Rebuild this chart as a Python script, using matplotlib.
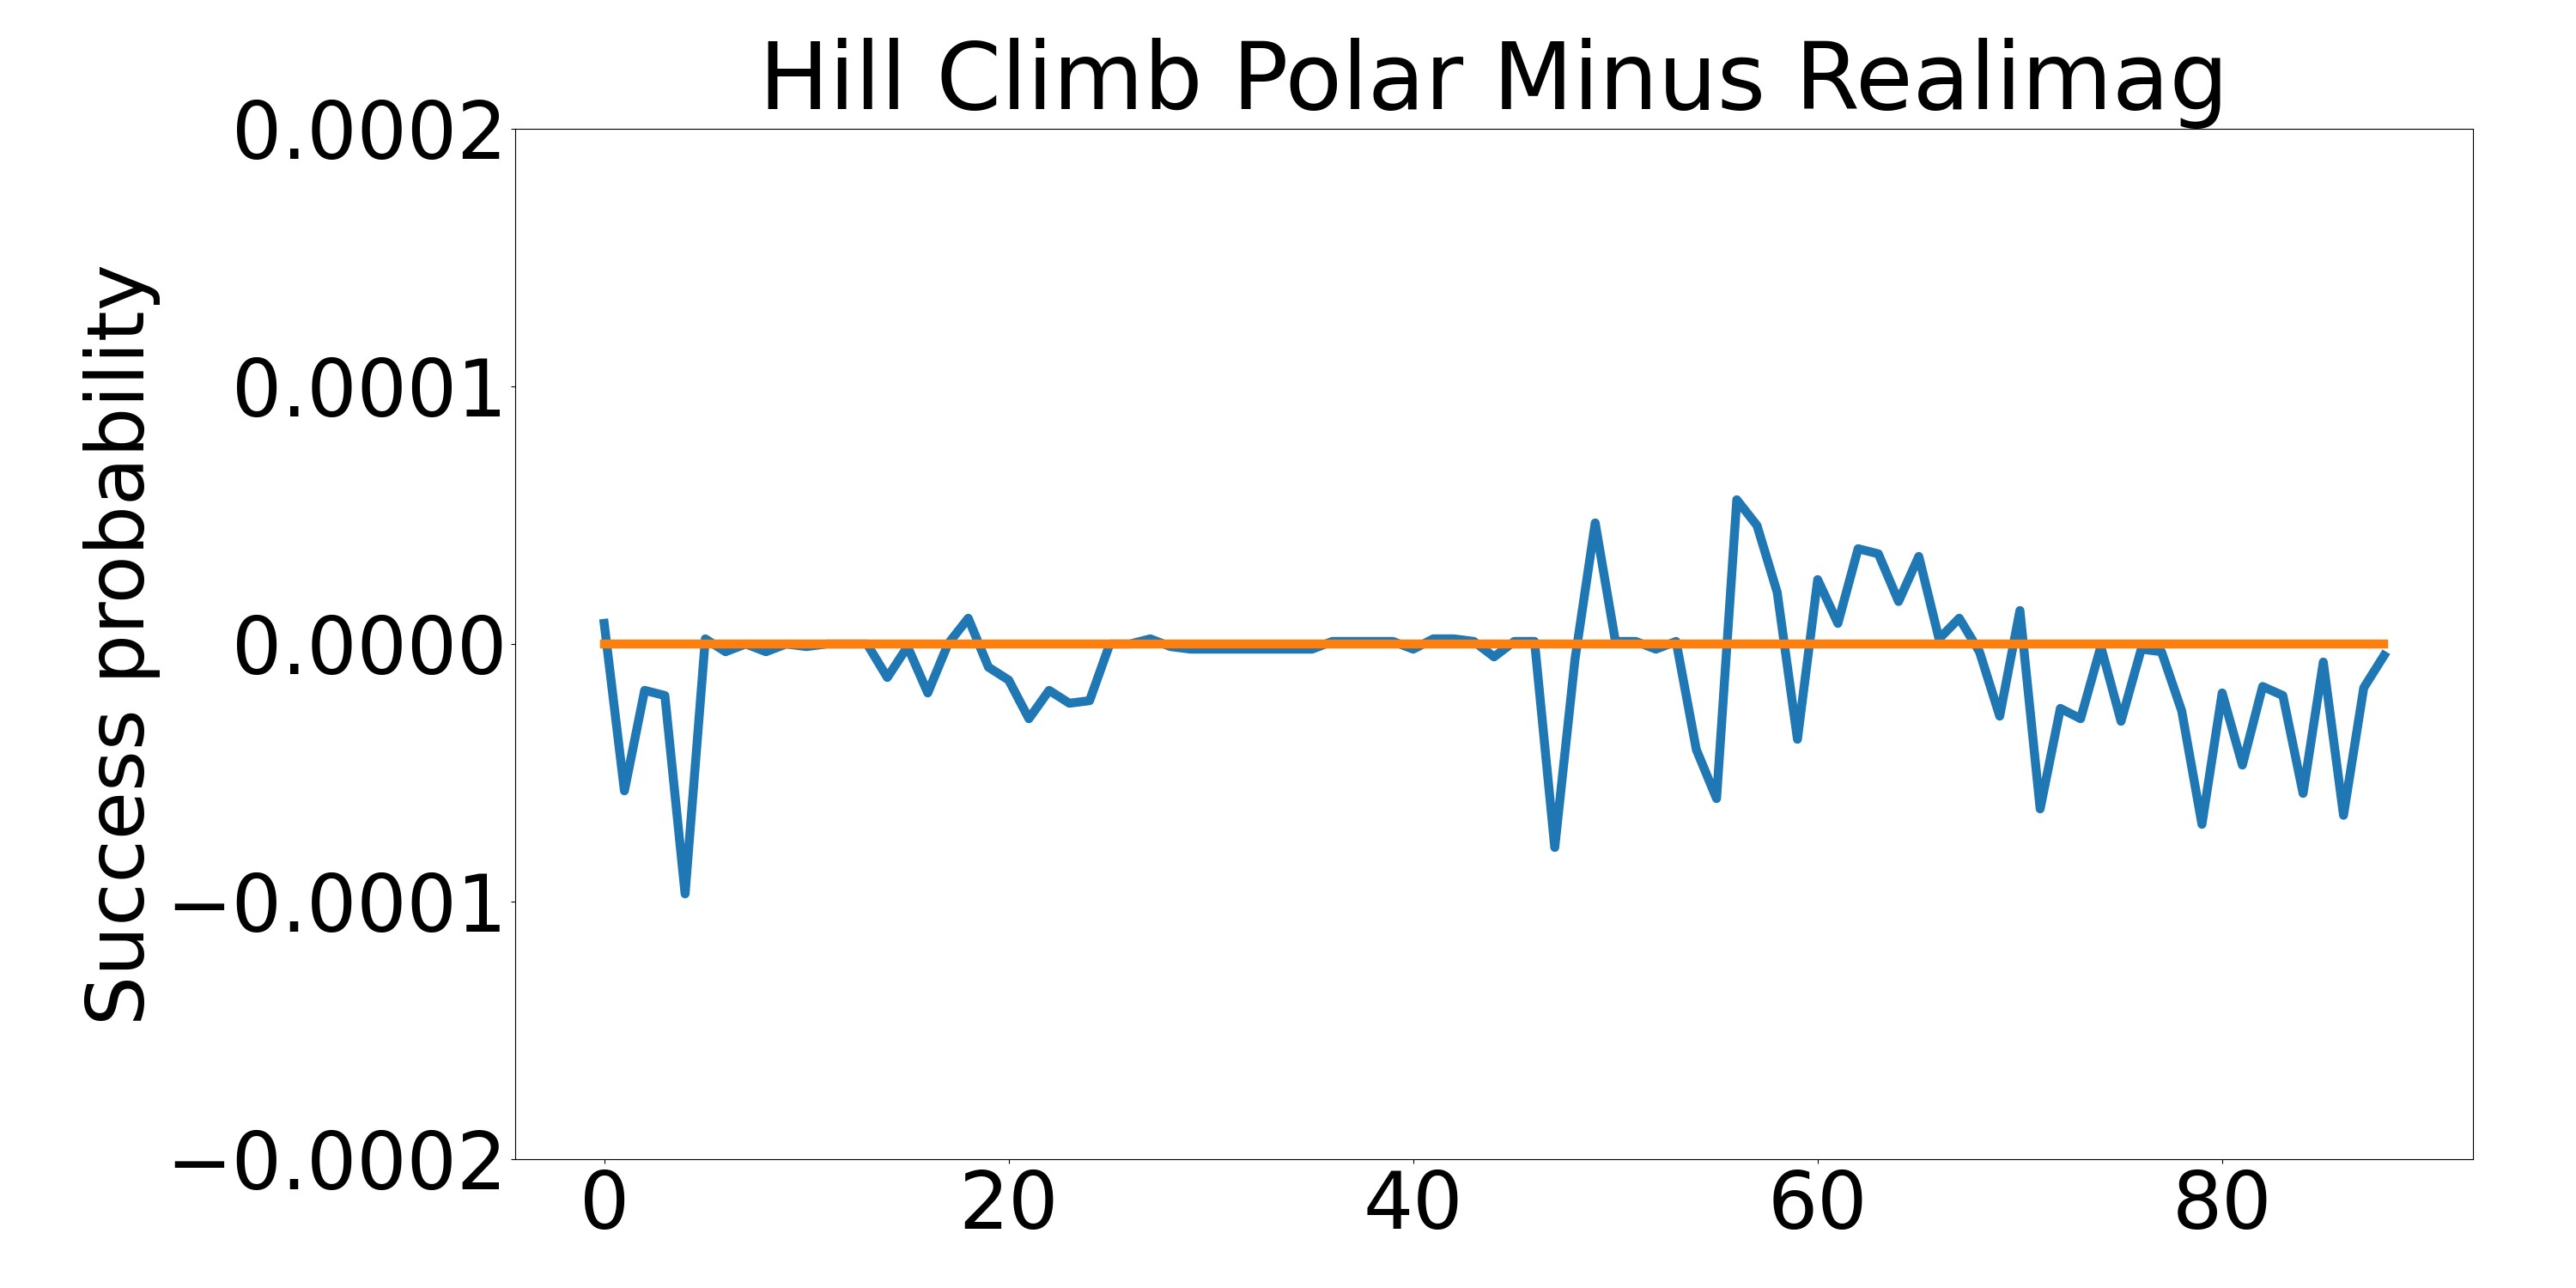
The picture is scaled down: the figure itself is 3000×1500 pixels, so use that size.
import numpy as np
import matplotlib
matplotlib.use("Agg")
import matplotlib.pyplot as plt

# polar minus realimag success probability, per restart (units of 1e-4)
diff_e4 = [
    0.08, -0.57, -0.18, -0.20, -0.97, 0.02, -0.03, 0.00, -0.03, 0.00,
    -0.01, 0.00, 0.00, 0.00, -0.13, -0.01, -0.19, 0.00, 0.10, -0.09,
    -0.14, -0.29, -0.18, -0.23, -0.22, 0.00, 0.00, 0.02, -0.01, -0.02,
    -0.02, -0.02, -0.02, -0.02, -0.02, -0.02, 0.01, 0.01, 0.01, 0.01,
    -0.02, 0.02, 0.02, 0.01, -0.05, 0.01, 0.01, -0.79, -0.06, 0.47,
    0.01, 0.01, -0.02, 0.01, -0.41, -0.60, 0.56, 0.46, 0.20, -0.37,
    0.25, 0.08, 0.37, 0.35, 0.165, 0.34, 0.02, 0.10, -0.03, -0.28,
    0.13, -0.64, -0.25, -0.29, -0.01, -0.30, -0.02, -0.03, -0.26, -0.70,
    -0.19, -0.47, -0.165, -0.20, -0.58, -0.07, -0.665, -0.17, -0.045,
]
zero_line = [0.0] * len(diff_e4)

title = "Hill Climb Polar Minus Realimag"
ylabel = "Success probability"


def main():
    diff = np.array(diff_e4) * 1e-4
    x = np.arange(len(diff))

    fig, ax = plt.subplots(figsize=(30, 15), dpi=100)
    fig.subplots_adjust(left=0.2, right=0.96, bottom=0.1, top=0.9)

    ax.plot(x, diff, linewidth=7.5)
    ax.plot(x, zero_line, linewidth=7.5)

    ax.set_ylim(-0.0002, 0.0002)
    ax.set_yticks([-0.0002, -0.0001, 0.0, 0.0001, 0.0002])
    ax.ticklabel_format(axis="y", style="plain", useOffset=False)

    ax.set_title(title, fontsize=78)
    ax.set_ylabel(ylabel, fontsize=66)
    ax.tick_params(labelsize=66)

    fig.savefig("out.png", dpi=100)


if __name__ == "__main__":
    main()
